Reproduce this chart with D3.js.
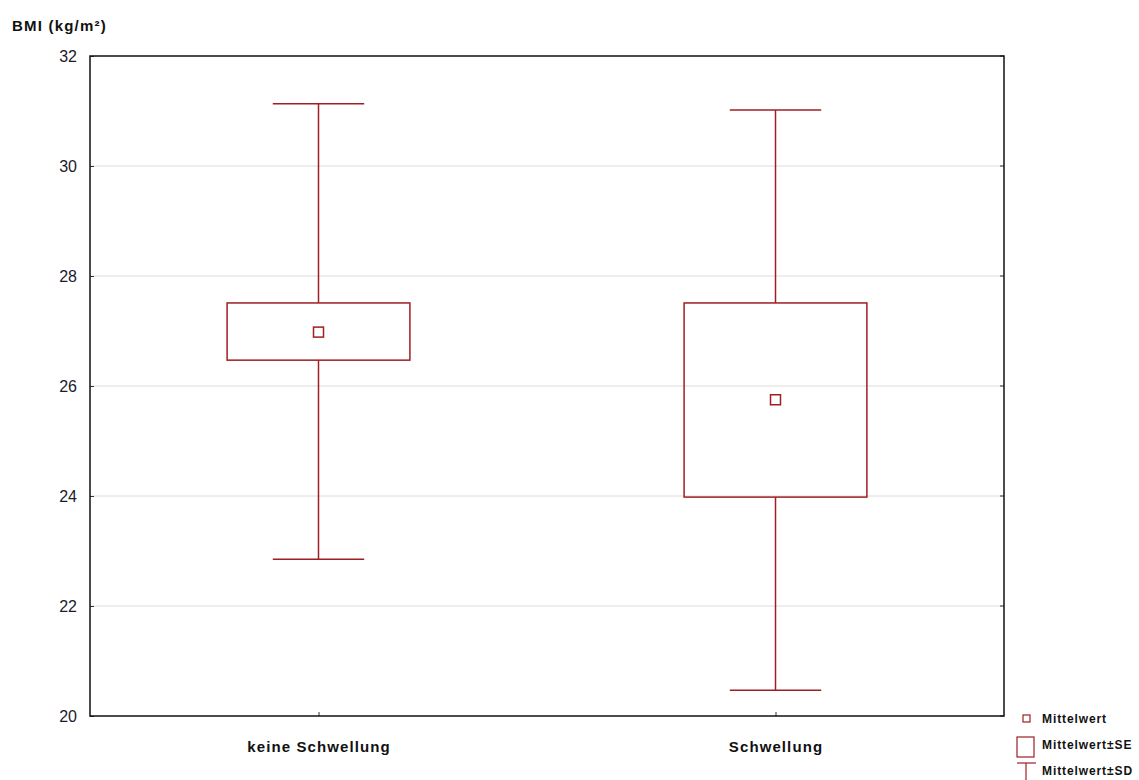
<!DOCTYPE html>
<html><head><meta charset="utf-8">
<script src="https://cdn.jsdelivr.net/npm/d3@7"></script>
<style>body{margin:0;background:#fff}svg{display:block}</style>
</head><body>
<script>
const categories = ["keine Schwellung", "Schwellung"];
const means = [26.98, 25.75];
const seLow = [26.47, 23.98];
const seHigh = [27.51, 27.51];
const sdLow = [22.85, 20.47];
const sdHigh = [31.13, 31.02];
const yTicks = [20, 22, 24, 26, 28, 30, 32];
const legendLabels = ["Mittelwert", "Mittelwert±SE", "Mittelwert±SD"];

const W = 1139, H = 780;
const m = {left: 90, right: 1004, top: 56, bottom: 716};
const col = "#9e1f24";
const svg = d3.select("body").append("svg").attr("width", W).attr("height", H);

const x = d3.scalePoint().domain(categories).range([m.left, m.right]).padding(0.5);
const y = d3.scaleLinear().domain([20, 32]).range([m.bottom, m.top]);
const pw = m.right - m.left;
const boxW = pw * 0.2, capW = pw * 0.1, meanS = 10;

// grid
svg.append("g").selectAll("line").data(yTicks.slice(1, -1)).join("line")
  .attr("x1", m.left).attr("x2", m.right)
  .attr("y1", d => y(d)).attr("y2", d => y(d))
  .attr("stroke", "#dcdcdc").attr("stroke-width", 1);

// y axis left
const yAx = svg.append("g").attr("transform", `translate(${m.left},0)`)
  .call(d3.axisLeft(y).tickValues(yTicks).tickSize(-4).tickPadding(13).tickFormat(d3.format("d")));
yAx.select(".domain").remove();
yAx.selectAll("line").attr("stroke", "#333");
yAx.selectAll("text").attr("font-family", "Liberation Sans, Arial, sans-serif").attr("font-size", 16).attr("fill", "#1b1b2b");
// y ticks right
svg.append("g").selectAll("line").data(yTicks).join("line")
  .attr("x1", m.right - 4).attr("x2", m.right).attr("y1", d => y(d)).attr("y2", d => y(d)).attr("stroke", "#333");

// x axis
const xAx = svg.append("g").attr("transform", `translate(0,${m.bottom})`)
  .call(d3.axisBottom(x).tickSize(-4).tickPadding(25));
xAx.select(".domain").remove();
xAx.selectAll("line").attr("stroke", "#333");
xAx.selectAll("text").attr("font-family", "Liberation Sans, Arial, sans-serif").attr("font-size", 15)
  .attr("font-weight", "bold").attr("fill", "#111").attr("letter-spacing", 1.1);

// frame
svg.append("rect").attr("x", m.left).attr("y", m.top).attr("width", pw).attr("height", m.bottom - m.top)
  .attr("fill", "none").attr("stroke", "#111").attr("stroke-width", 1.5);

// boxes
const g = svg.append("g");
categories.forEach((c, i) => {
  const cx = x(c);
  g.append("line").attr("x1", cx).attr("x2", cx).attr("y1", y(sdHigh[i])).attr("y2", y(seHigh[i])).attr("stroke", col).attr("stroke-width", 1.5);
  g.append("line").attr("x1", cx).attr("x2", cx).attr("y1", y(seLow[i])).attr("y2", y(sdLow[i])).attr("stroke", col).attr("stroke-width", 1.5);
  [sdHigh[i], sdLow[i]].forEach(v => g.append("line").attr("x1", cx - capW / 2).attr("x2", cx + capW / 2)
    .attr("y1", y(v)).attr("y2", y(v)).attr("stroke", col).attr("stroke-width", 1.5));
  g.append("rect").attr("x", cx - boxW / 2).attr("y", y(seHigh[i])).attr("width", boxW)
    .attr("height", y(seLow[i]) - y(seHigh[i])).attr("fill", "none").attr("stroke", col).attr("stroke-width", 1.5);
  g.append("rect").attr("x", cx - meanS / 2).attr("y", y(means[i]) - meanS / 2).attr("width", meanS).attr("height", meanS)
    .attr("fill", "none").attr("stroke", col).attr("stroke-width", 1.5);
});

// y title
svg.append("text").attr("x", 12).attr("y", 31).text("BMI (kg/m²)")
  .attr("font-family", "Liberation Sans, Arial, sans-serif").attr("font-size", 15).attr("font-weight", "bold")
  .attr("fill", "#111").attr("letter-spacing", 1.2);

// legend
const lg = svg.append("g").attr("font-family", "Liberation Sans, Arial, sans-serif").attr("font-size", 12).attr("font-weight", "bold").attr("fill", "#111");
lg.append("rect").attr("x", 1023).attr("y", 715).attr("width", 7).attr("height", 7).attr("fill", "none").attr("stroke", col).attr("stroke-width", 1.2);
lg.append("rect").attr("x", 1017).attr("y", 737).attr("width", 17).attr("height", 20).attr("fill", "none").attr("stroke", col).attr("stroke-width", 1.2);
lg.append("line").attr("x1", 1017).attr("x2", 1036).attr("y1", 763).attr("y2", 763).attr("stroke", col).attr("stroke-width", 1.2);
lg.append("line").attr("x1", 1026).attr("x2", 1026).attr("y1", 763).attr("y2", 780).attr("stroke", col).attr("stroke-width", 1.2);
legendLabels.forEach((t, i) => lg.append("text").attr("x", 1042).attr("y", [723, 749, 775][i]).text(t).attr("letter-spacing", 0.9));
</script>
</body></html>
